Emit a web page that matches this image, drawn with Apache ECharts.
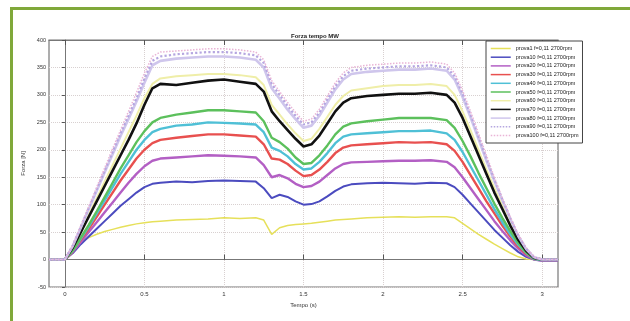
<!DOCTYPE html>
<html><head><meta charset="utf-8">
<script src="https://cdn.jsdelivr.net/npm/echarts@6/dist/echarts.min.js"></script>
<style>html,body{margin:0;padding:0;background:#fff}#c{width:630px;height:321px}</style>
</head><body><div id="c"></div>
<script>
const title = "Forza tempo MW";
const xName = "Tempo (s)";
const yName = "Forza [N]";
const xTicks = [0, 0.5, 1, 1.5, 2, 2.5, 3];
const xTickLabels = ["0", "0.5", "1", "1.5", "2", "2.5", "3"];
const t = [-0.1,0,0.05,0.1,0.15,0.2,0.25,0.3,0.35,0.4,0.45,0.5,0.55,0.6,0.7,0.8,0.9,1.0,1.1,1.2,1.25,1.3,1.35,1.4,1.45,1.5,1.55,1.6,1.65,1.7,1.75,1.8,1.9,2.0,2.1,2.2,2.3,2.4,2.45,2.5,2.55,2.6,2.65,2.7,2.75,2.8,2.85,2.9,2.95,3.0,3.1];
const names = ["prova1 f=0,11 2700rpm","prova10 f=0,11 2700rpm","prova20 f=0,11 2700rpm","prova30 f=0,11 2700rpm","prova40 f=0,11 2700rpm","prova50 f=0,11 2700rpm","prova60 f=0,11 2700rpm","prova70 f=0,11 2700rpm","prova80 f=0,11 2700rpm","prova90 f=0,11 2700rpm","prova100 f=0,11 2700rpm"];
const prova1   = [0,0,20,32,40,46,51,55,59,62,65,67,69,70,72,73,74,76,75,76,72,46,58,62,64,65,66,68,70,72,73,74,76,77,78,77,78,78,76,66,56,46,37,28,20,12,5,1,0,0,0];
const prova10  = [0,0,12,28,42,56,70,84,98,110,122,132,138,140,142,141,143,144,143,142,130,112,118,114,106,100,101,106,115,125,133,137,139,140,139,138,140,139,132,118,102,86,70,54,40,26,14,5,0,-2,-2];
const prova20  = [0,0,14,32,50,68,86,104,122,140,156,170,180,184,186,188,190,189,188,186,172,150,154,148,138,132,134,142,154,166,174,177,178,179,180,180,181,178,168,150,130,110,90,70,52,35,20,8,0,-2,-2];
const prova30  = [0,0,15,36,56,78,100,122,144,164,184,200,212,218,222,225,228,228,226,224,210,184,182,174,162,152,154,164,178,194,204,208,210,212,214,213,214,210,198,178,154,130,106,84,62,42,24,10,1,-1,-1];
const prova40  = [0,0,16,38,60,84,108,132,156,178,200,218,232,238,244,246,250,249,248,246,232,204,198,188,174,164,166,178,194,212,224,228,230,232,234,234,235,230,218,196,170,144,118,92,68,46,27,12,1,-1,-1];
const prova50  = [0,0,17,40,63,88,114,140,166,190,214,234,250,258,264,268,272,272,270,268,252,222,214,202,186,174,176,190,208,228,242,248,252,255,258,258,258,254,240,216,188,158,130,102,76,52,30,13,2,0,0];
const prova60  = [0,0,23,52,82,112,142,172,202,232,262,294,320,330,334,336,338,338,336,332,318,282,264,246,230,216,220,238,260,282,298,308,312,316,318,318,320,316,300,270,236,200,164,130,98,66,38,17,3,0,0];
const prova70  = [0,0,22,50,78,106,134,162,190,218,248,282,312,320,318,322,326,328,324,320,306,270,252,236,220,206,210,226,248,270,286,294,298,300,302,302,304,300,286,258,224,190,156,122,92,62,36,16,3,0,0];
const prova80  = [0,0,25,58,92,125,159,192,225,256,288,322,354,362,366,368,370,370,368,364,350,312,293,273,256,240,244,262,286,310,328,338,342,344,346,346,348,344,328,296,259,220,180,143,108,74,43,19,4,0,0];
const prova90  = [0,0,26,60,94,128,162,196,230,262,294,330,362,370,374,376,378,378,376,372,358,320,300,280,262,246,250,268,292,316,334,344,348,350,352,352,354,350,334,302,264,224,184,146,110,76,44,20,4,0,0];
const prova100 = [0,0,27,62,97,132,167,202,236,270,304,340,370,378,380,382,384,384,382,378,364,326,306,286,268,252,256,274,298,322,340,350,354,356,358,358,360,356,340,308,270,230,190,150,112,78,46,22,5,0,0];
const values = [prova1,prova10,prova20,prova30,prova40,prova50,prova60,prova70,prova80,prova90,prova100];
const colors = ['#e6e05a','#4b4bbf','#b35fc4','#e8504f','#4fc0d6','#5cc05c','#efeea8','#111111','#cfc6ec','#b5a6e0','#e9b4d6'];
const widths = [1.5,2,2.4,2.4,2.4,2.4,2,2.6,2.6,2.2,1.5];
const types = ['solid','solid','solid','solid','solid','solid','solid','solid','solid','dotted','dotted'];

const FONT = 'Liberation Sans';
const series = names.map((n,i)=>({
  name:n, type:'line', symbol:'none', smooth:false, animation:false,
  data: t.map((x,j)=>[x, values[i][j]]),
  lineStyle:{color:colors[i], width:widths[i], type:types[i]},
  itemStyle:{color:colors[i]}
}));
const chart = echarts.init(document.getElementById('c'), null, {renderer:'canvas'});
chart.setOption({
  backgroundColor:'#fff',
  animation:false,
  title:{text:title, left:310, top:28, textAlign:'center', textStyle:{fontFamily:FONT, fontSize:6, fontWeight:'bold', color:'#222'}},
  grid:{left:49, top:40, right:72, bottom:34, show:true, borderColor:'#777', borderWidth:1.2},
  legend:{orient:'vertical', left:486, top:41, padding:[4,4,4,4], itemGap:1.7, itemWidth:20, itemHeight:7,
    backgroundColor:'#fff', borderColor:'#444', borderWidth:1,
    itemStyle:{opacity:0}, lineStyle:{width:1.5},
    textStyle:{fontFamily:FONT, fontSize:5.5, color:'#222', lineHeight:7}, data:names},
  xAxis:[{type:'value', min:-0.1, max:3.1, name:xName, nameLocation:'middle', nameGap:15,
    nameTextStyle:{fontFamily:FONT, fontSize:6, color:'#333'},
    axisLine:{lineStyle:{color:'#777'}},
    axisTick:{inside:true, length:5, customValues:xTicks, lineStyle:{color:'#555'}},
    axisLabel:{customValues:xTicks, formatter:(v)=>xTickLabels[xTicks.indexOf(v)] ?? String(v), fontFamily:FONT, fontSize:6, color:'#333', margin:4},
    splitLine:{show:true, lineStyle:{color:'#d8d0d0', type:'dotted', width:1}}},
   {type:'value', position:'top', min:-0.1, max:3.1,
    axisLine:{lineStyle:{color:'#777'}},
    axisTick:{inside:true, length:5, customValues:xTicks, lineStyle:{color:'#555'}},
    axisLabel:{show:false, customValues:xTicks}, splitLine:{show:false}}],
  yAxis:{type:'value', min:-50, max:400, interval:50, name:yName, nameLocation:'middle', nameGap:15,
    nameTextStyle:{fontFamily:FONT, fontSize:6, color:'#333'},
    axisLine:{show:true, lineStyle:{color:'#777'}},
    axisTick:{show:true, inside:false, length:3, lineStyle:{color:'#555'}},
    axisLabel:{fontFamily:FONT, fontSize:5.5, color:'#333', margin:3},
    splitLine:{show:true, lineStyle:{color:'#d8d0d0', type:'dotted', width:1}}},
  series: series,
  graphic:[
    {type:'rect', shape:{x:10, y:7, width:620, height:3}, style:{fill:'#80a83a'}, silent:true},
    {type:'rect', shape:{x:10, y:7, width:3, height:314}, style:{fill:'#80a83a'}, silent:true}
  ]
});
</script></body></html>
